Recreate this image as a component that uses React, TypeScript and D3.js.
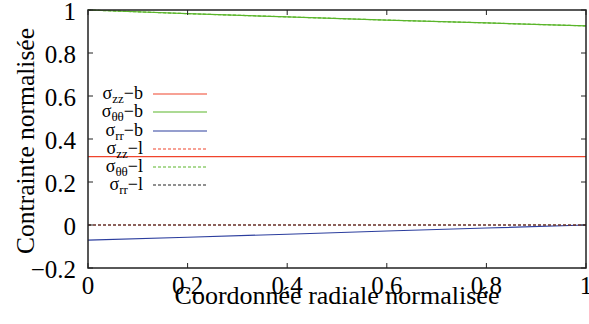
import React from "react";
import * as d3 from "d3";

const xTicks = [0, 0.2, 0.4, 0.6, 0.8, 1];
const yTicks = [-0.2, 0, 0.2, 0.4, 0.6, 0.8, 1];
const radius = [0, 0.2, 0.4, 0.6, 0.8, 1];
const szzB = [0.318, 0.318, 0.318, 0.318, 0.318, 0.318];
const sttB = [1.0, 0.983, 0.968, 0.953, 0.94, 0.926];
const srrB = [-0.07, -0.057, -0.043, -0.028, -0.014, 0.0];
const szzL = [0, 0, 0, 0, 0, 0];
const sttL = [1.0, 0.983, 0.968, 0.953, 0.94, 0.926];
const srrL = [0, 0, 0, 0, 0, 0];

const seriesNames = [
  { sub: "zz", suf: "b" },
  { sub: "θθ", suf: "b" },
  { sub: "rr", suf: "b" },
  { sub: "zz", suf: "l" },
  { sub: "θθ", suf: "l" },
  { sub: "rr", suf: "l" },
];
const seriesValues = [szzB, sttB, srrB, szzL, sttL, srrL];
const seriesColors = ["#f0442c", "#5ab52a", "#2c3e9e", "#f0442c", "#5ab52a", "#222222"];
const seriesDash = [null, null, null, "3,2", "3,2", "3,2"];

export default function App() {
  const W = 589, H = 324;
  const m = { left: 88, right: 3, top: 10, bottom: 56 };
  const x = d3.scaleLinear().domain([0, 1]).range([m.left, W - m.right]);
  const y = d3.scaleLinear().domain([-0.2, 1]).range([H - m.bottom, m.top]);
  const ff = { fontFamily: '"Liberation Serif"' };
  const line = (vals: number[]) =>
    d3.line<number>().x((_, i) => x(radius[i])).y((v) => y(v))(vals) || "";
  const legendY = [94, 112, 131, 149, 167, 185];
  return (
    <svg width={W} height={H} style={{ position: "absolute", left: 0, top: 0, background: "#fff" }}>
      {seriesValues.map((vals, i) => (
        <path key={i} d={line(vals)} fill="none" stroke={seriesColors[i]} strokeWidth={1.2}
          strokeDasharray={seriesDash[i] || undefined} />
      ))}
      <rect x={x(0)} y={y(1)} width={x(1) - x(0)} height={y(-0.2) - y(1)} fill="none" stroke="#222" strokeWidth={1.5} />
      {xTicks.map((t) => (
        <g key={"x" + t}>
          <line x1={x(t)} x2={x(t)} y1={y(-0.2)} y2={y(-0.2) - 5} stroke="#222" />
          <line x1={x(t)} x2={x(t)} y1={y(1)} y2={y(1) + 5} stroke="#222" />
          <text x={x(t)} y={294} textAnchor="middle" fontSize={25} style={ff}>
            {t === 0 || t === 1 ? String(t) : t.toFixed(1)}
          </text>
        </g>
      ))}
      {yTicks.map((t) => (
        <g key={"y" + t}>
          <line x1={x(0)} x2={x(0) + 5} y1={y(t)} y2={y(t)} stroke="#222" />
          <line x1={x(1)} x2={x(1) - 5} y1={y(t)} y2={y(t)} stroke="#222" />
          <text x={76} y={y(t) + 10} textAnchor="end" fontSize={25} style={ff}>
            {t === 0 || t === 1 ? String(t) : (t < 0 ? "\u2212" : "") + Math.abs(t).toFixed(1)}
          </text>
        </g>
      ))}
      <text x={337} y={304} textAnchor="middle" fontSize={26} style={ff}>Coordonnée radiale normalisée</text>
      <text transform={`translate(34,141) rotate(-90)`} textAnchor="middle" fontSize={25.5} style={ff}>Contrainte normalisée</text>
      {seriesNames.map((s, i) => (
        <g key={"l" + i}>
          <text x={143} y={legendY[i] + 5} textAnchor="end" fontSize={18} style={ff}>
            <tspan>σ</tspan>
            <tspan fontSize={13} dy={4}>{s.sub}</tspan>
            <tspan dy={-4}>{"\u2212" + s.suf}</tspan>
          </text>
          <line x1={153} x2={207} y1={legendY[i]} y2={legendY[i]} stroke={seriesColors[i]} strokeWidth={1.2}
            strokeDasharray={seriesDash[i] || undefined} />
        </g>
      ))}
    </svg>
  );
}
